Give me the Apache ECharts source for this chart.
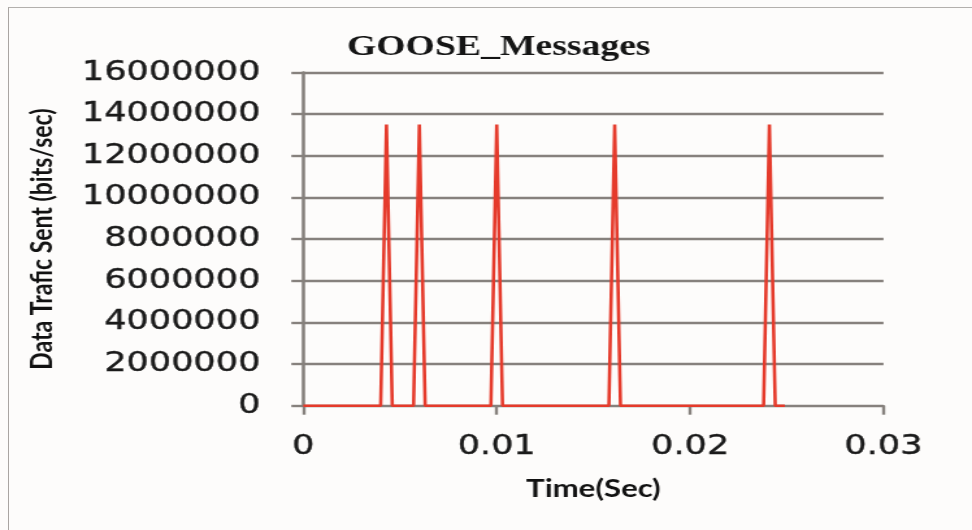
<!DOCTYPE html>
<html>
<head>
<meta charset="utf-8">
<script src="https://cdn.jsdelivr.net/npm/echarts@6/dist/echarts.min.js"></script>
<style>
  html, body { margin: 0; padding: 0; background: #fdfcfb; overflow: hidden; width: 972px; height: 530px; }
  #frame { position: absolute; left: 8px; top: 7px; width: 980px; height: 540px; border-left: 1.5px solid #a9a5a2; border-top: 1.5px solid #b3b0ad; }
  #wrap { position: absolute; left: 0; top: 0; width: 748px; height: 530px; transform: scaleX(1.29947); transform-origin: 0 0; }
  #chart { width: 748px; height: 530px; }
</style>
</head>
<body>
<div id="frame"></div>
<div id="wrap"><div id="chart"></div></div>
<script>
// Data
const timeSec = [0, 0.0040, 0.0043, 0.0046, 0.0057, 0.0060, 0.0063, 0.0097, 0.0100, 0.0103, 0.0158, 0.0161, 0.0164, 0.0238, 0.0241, 0.0244, 0.0249];
const trafficBits = [0, 0, 13500000, 0, 0, 13500000, 0, 0, 13500000, 0, 0, 13500000, 0, 0, 13500000, 0, 0];
const xTicks = [0, 0.01, 0.02, 0.03];
const yTicks = [0, 2000000, 4000000, 6000000, 8000000, 10000000, 12000000, 14000000, 16000000];
const chartTitle = 'GOOSE_Messages';
const xName = 'Time(Sec)';
const yName = 'Data Trafic Sent (bits/sec)';

const gray = '#86817d';
const labelStyle = { fontFamily: 'DejaVu Sans', fontSize: 27, color: '#1a1a1a', textBorderColor: '#1a1a1a', textBorderWidth: 0.4 };
const chart = echarts.init(document.getElementById('chart'), null, { renderer: 'canvas' });
chart.setOption({
  backgroundColor: 'transparent',
  animation: false,
  title: {
    text: chartTitle,
    left: 267,
    top: 33,
    padding: 0,
    textStyle: { fontFamily: 'Liberation Serif', fontWeight: 'bold', fontSize: 29, color: '#151515' }
  },
  grid: { left: 233.4, right: 68.1, top: 72.5, bottom: 124.3, outerBoundsMode: 'none', containLabel: false },
  xAxis: {
    type: 'value',
    min: xTicks[0],
    max: xTicks[xTicks.length - 1],
    interval: xTicks[1] - xTicks[0],
    name: xName,
    nameLocation: 'middle',
    nameGap: 72,
    nameTextStyle: { fontFamily: 'Lato', fontWeight: 'bold', fontSize: 24, color: '#111' },
    axisLine: { show: true, onZero: false, lineStyle: { color: gray, width: 2.2 } },
    axisTick: { show: true, length: 9, lineStyle: { color: gray, width: 2.4 } },
    axisLabel: Object.assign({ margin: 28, formatter: v => String(+v.toFixed(2)) }, labelStyle),
    splitLine: { show: false }
  },
  yAxis: {
    type: 'value',
    min: yTicks[0],
    max: yTicks[yTicks.length - 1],
    interval: yTicks[1] - yTicks[0],
    name: yName,
    nameLocation: 'middle',
    nameRotate: 90,
    nameGap: 189,
    nameTextStyle: { fontFamily: 'Lato', fontWeight: 'bold', fontSize: 23, color: '#111' },
    axisLine: { show: true, lineStyle: { color: gray, width: 2.6 } },
    axisTick: { show: true, length: 9.2, lineStyle: { color: gray, width: 2.4 } },
    axisLabel: Object.assign({ margin: 33, formatter: v => String(Math.round(v)) }, labelStyle),
    splitLine: { show: true, lineStyle: { color: gray, width: 2.4 } }
  },
  series: [{
    type: 'line',
    data: timeSec.map((t, i) => [t, trafficBits[i]]),
    showSymbol: false,
    symbol: 'none',
    lineStyle: { color: '#e53a2b', width: 2.6 },
    z: 3
  }]
});
</script>
</body>
</html>
